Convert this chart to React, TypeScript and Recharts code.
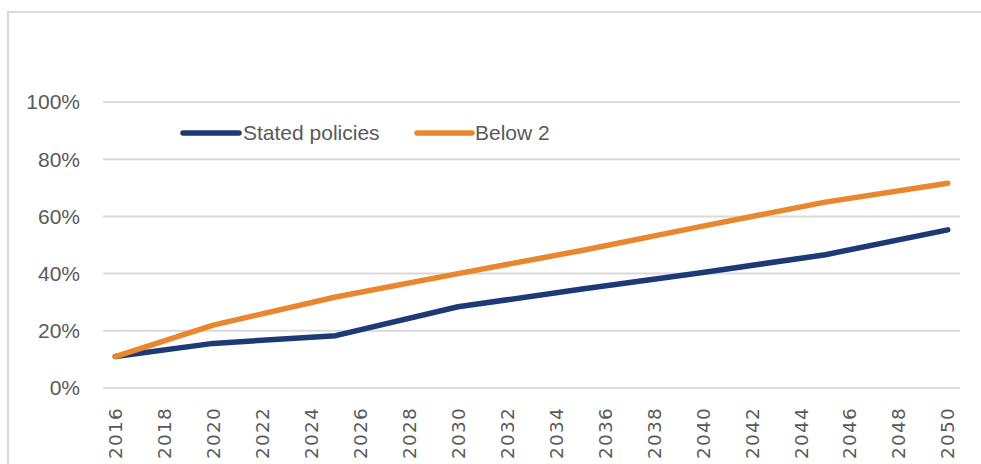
import React from "react";
import { LineChart, Line, XAxis, YAxis, CartesianGrid, Legend } from "recharts";

// Category axis: one slot per year
const years: number[] = [
  2016, 2017, 2018, 2019, 2020, 2021, 2022, 2023, 2024, 2025, 2026, 2027,
  2028, 2029, 2030, 2031, 2032, 2033, 2034, 2035, 2036, 2037, 2038, 2039,
  2040, 2041, 2042, 2043, 2044, 2045, 2046, 2047, 2048, 2049, 2050,
];

// Years with reported values (share, %)
const milestoneYears: number[] = [2016, 2020, 2025, 2030, 2035, 2040, 2045, 2050];
const statedPolicies: number[] = [11, 15.6, 18.3, 28.4, 34.5, 40.4, 46.6, 55.3];
const below2: number[] = [11, 22, 31.8, 40, 48, 56.6, 65, 71.6];

const yTicks: number[] = [0, 20, 40, 60, 80, 100];

const seriesNames = { stated: "Stated policies", below2: "Below 2" };
const NAVY = "#1c3a76";
const ORANGE = "#e8872e";
const TEXT = "#595959";
const GRID = "#d9d9d9";

const data = years.map((year) => {
  const i = milestoneYears.indexOf(year);
  return {
    year,
    stated: i >= 0 ? statedPolicies[i] : null,
    below2: i >= 0 ? below2[i] : null,
  };
});

const YearTick = (props: any) => {
  const { x, y, payload } = props;
  return (
    <g transform={`translate(${x},${y})`}>
      <text
        transform="rotate(-90)"
        x={-17}
        y={0}
        dy="0.36em"
        textAnchor="end"
        fill={TEXT}
        fontFamily="'DejaVu Sans', sans-serif"
        fontSize={18.5}
        letterSpacing={1.2}
      >
        {payload.value}
      </text>
    </g>
  );
};

const LegendContent = () => (
  <svg width={420} height={40}>
    <line x1={5} y1={20} x2={61} y2={20} stroke={NAVY} strokeWidth={5.5} strokeLinecap="round" />
    <text x={65} y={20} dy="0.35em" fill={TEXT} fontFamily="'Liberation Sans', Arial, sans-serif" fontSize={21}>
      {seriesNames.stated}
    </text>
    <line x1={239} y1={20} x2={294} y2={20} stroke={ORANGE} strokeWidth={5.5} strokeLinecap="round" />
    <text x={297} y={20} dy="0.35em" fill={TEXT} fontFamily="'Liberation Sans', Arial, sans-serif" fontSize={21}>
      {seriesNames.below2}
    </text>
  </svg>
);

export default function App() {
  return (
    <div
      style={{
        position: "fixed",
        left: 0,
        top: 0,
        width: 981,
        height: 464,
        overflow: "hidden",
        background: "#ffffff",
      }}
    >
      {/* chart frame: top and left edges */}
      <div
        style={{
          position: "absolute",
          left: 7,
          top: 11,
          width: 980,
          height: 460,
          borderLeft: `2px solid ${GRID}`,
          borderTop: `2px solid ${GRID}`,
        }}
      />
      <div style={{ position: "absolute", left: 8, top: 8 }}>
        <LineChart
          width={973}
          height={456}
          data={data}
          margin={{ top: 94, right: 21, bottom: 0, left: 0 }}
        >
          <CartesianGrid vertical={false} stroke={GRID} strokeWidth={2} />
          <XAxis
            dataKey="year"
            type="category"
            scale="band"
            interval={1}
            height={76}
            axisLine={{ stroke: GRID, strokeWidth: 2 }}
            tickLine={false}
            tickSize={0}
            tickMargin={2}
            tick={<YearTick />}
          />
          <YAxis
            domain={[0, 100]}
            ticks={yTicks}
            width={95}
            axisLine={false}
            tickLine={false}
            tickSize={0}
            tickMargin={23}
            tickFormatter={(v: number) => `${v}%`}
            tick={{ fill: TEXT, fontSize: 21, fontFamily: "'Liberation Sans', Arial, sans-serif" }}
          />
          <Legend
            layout="horizontal"
            verticalAlign="middle"
            align="center"
            content={<LegendContent />}
            wrapperStyle={{ position: "absolute", left: 170, top: 105, width: 420, height: 40 }}
          />
          <Line
            type="linear"
            dataKey="stated"
            name={seriesNames.stated}
            stroke={NAVY}
            strokeWidth={5.5}
            strokeLinecap="round"
            strokeLinejoin="round"
            dot={false}
            connectNulls
            isAnimationActive={false}
          />
          <Line
            type="linear"
            dataKey="below2"
            name={seriesNames.below2}
            stroke={ORANGE}
            strokeWidth={5.5}
            strokeLinecap="round"
            strokeLinejoin="round"
            dot={false}
            connectNulls
            isAnimationActive={false}
          />
        </LineChart>
      </div>
    </div>
  );
}
